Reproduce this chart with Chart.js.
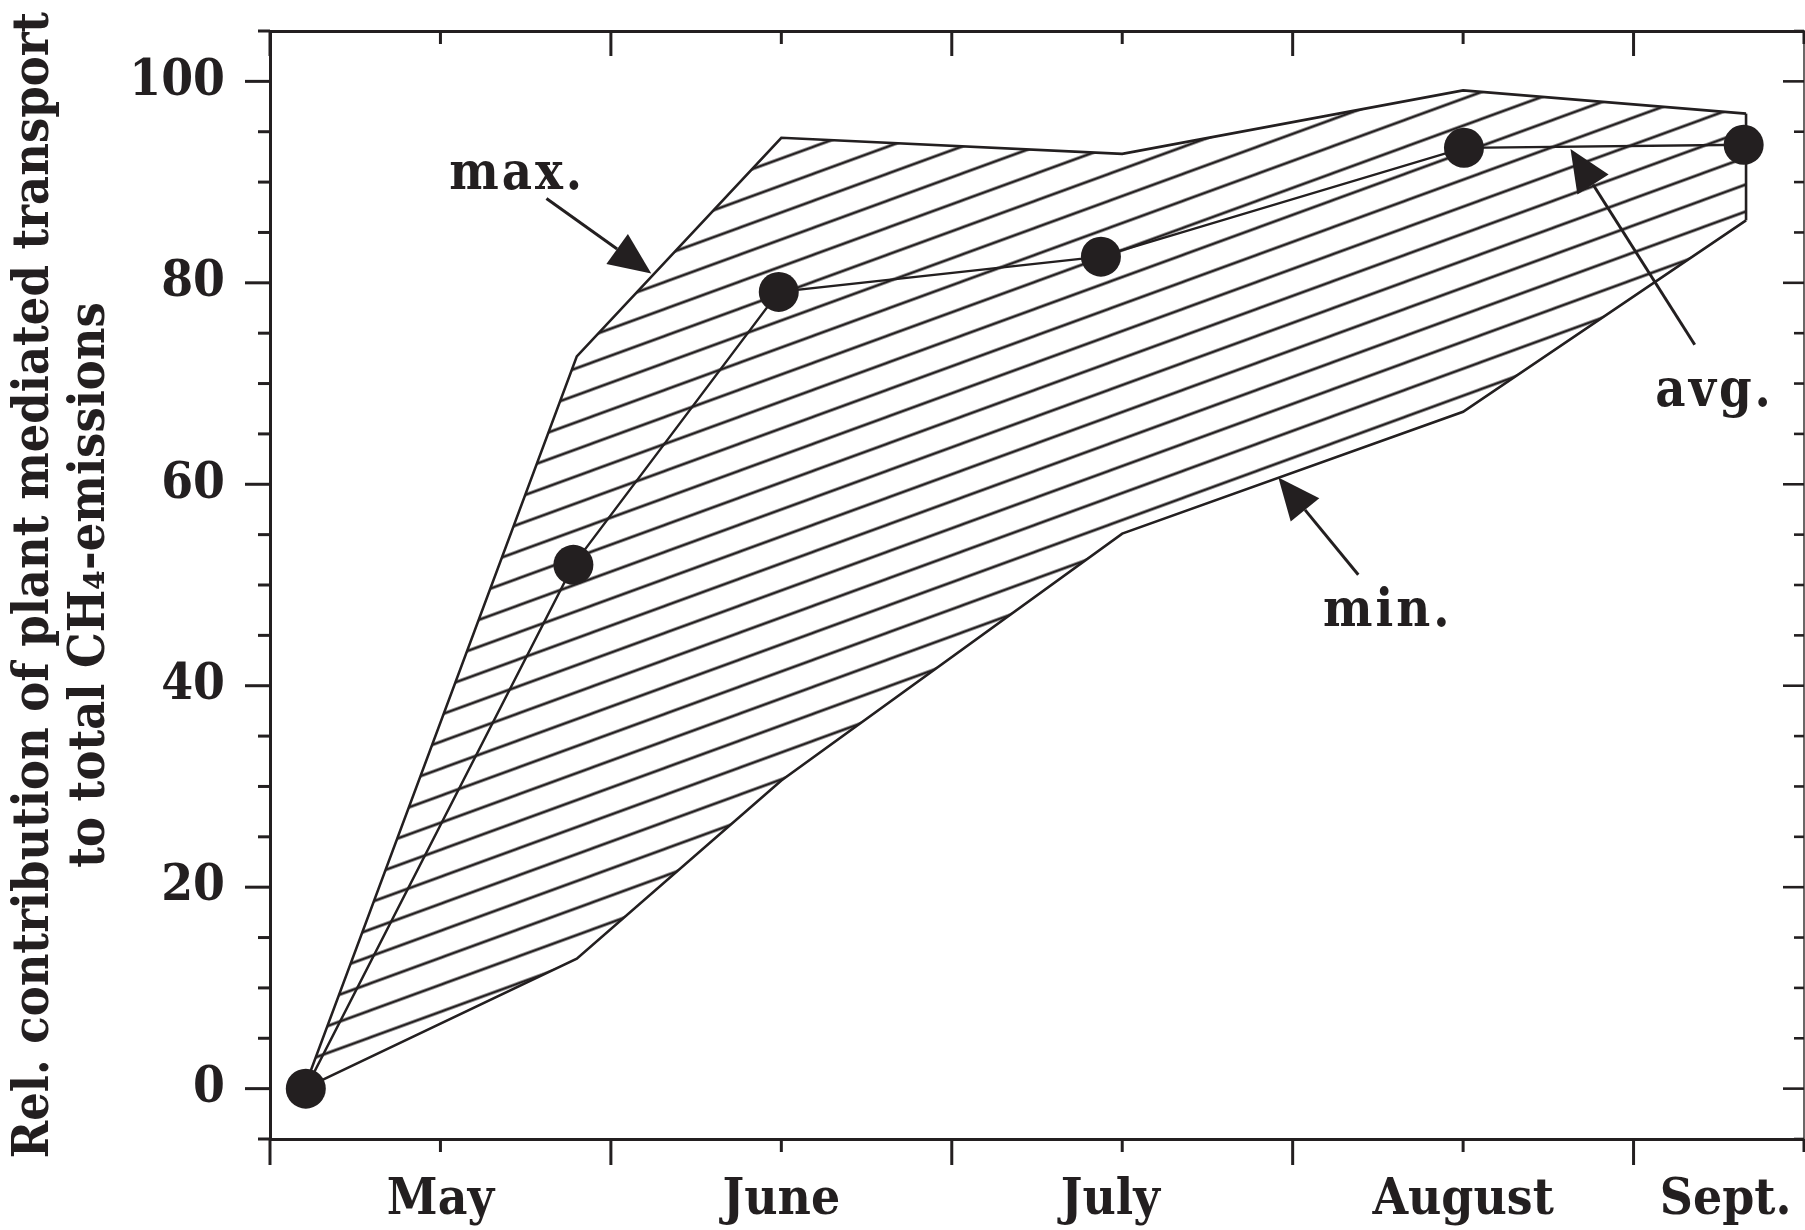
<!DOCTYPE html>
<html><head><meta charset="utf-8">
<script src="https://cdn.jsdelivr.net/npm/chart.js@4/dist/chart.umd.min.js"></script>
<style>html,body{margin:0;padding:0;background:#fff}canvas{display:block}</style>
</head><body>
<canvas id="c" width="1805" height="1230"></canvas>
<script>
// ---- data (x in half-month units: 0 = 1 May, 2 = 1 June, ...) ----
const monthLabels   = ['May', 'June', 'July', 'August', 'Sept.'];
const monthLabelPos = [1, 3, 4.93, 7, 8.54];
const sampleX   = [0.2, 1.8, 3.0, 5.0, 7.0, 8.66];
const maxValues = [0, 72.7, 94.4, 92.8, 99.1, 96.8];
const minValues = [0, 12.9, 30.6, 55.1, 67.2, 86.2];
const avgX      = [0.21, 1.78, 2.985, 4.875, 7.005, 8.646];
const avgValues = [0, 52.0, 79.1, 82.6, 93.4, 93.7];
const yTickValues = [0, 20, 40, 60, 80, 100];
const yTitle = ['Rel. contribution of plant mediated transport', 'to total CH\u2084-emissions'];

// annotation anchors (data units)
const notes = [
  {text: 'max.', at: [1.051, 89.31], from: [1.622, 88.38], to: [2.237, 80.93]},
  {text: 'min.', at: [6.178, 45.96], from: [6.385, 51.02], to: [5.916, 60.68]},
  {text: 'avg.', at: [8.128, 67.8],  from: [8.359, 73.85], to: [7.630, 93.28]}
];

const INK = '#231f20';
const SERIF_C = '"DejaVu Serif Condensed", "DejaVu Serif"';
const pts = (xs, ys) => xs.map((v, i) => ({x: v, y: ys[i]}));

const canvas = document.getElementById('c');
const mainCtx = canvas.getContext('2d');

// hatch pattern
const HW = 74, HH = 27, HS = HH / HW, HPHASE = 3.3;
const tile = document.createElement('canvas');
tile.width = HW; tile.height = HH;
const tg = tile.getContext('2d');
tg.strokeStyle = INK; tg.lineWidth = 2.7;
for (let k = -1; k <= 1; k++) {
  tg.beginPath();
  tg.moveTo(-6, HH * (1 + k) + 6 * HS);
  tg.lineTo(HW + 6, HH * (1 + k) - (HW + 6) * HS);
  tg.stroke();
}
const hatch = mainCtx.createPattern(tile, 'repeat');

const hatchPhase = {
  id: 'hatchPhase',
  beforeDatasetsDraw(chart) {
    const {x, y} = chart.scales;
    const px = x.getPixelForValue(sampleX[1]);
    const py = y.getPixelForValue(minValues[1]);
    const c0 = py + HS * px + HPHASE;
    const ty = ((c0 % HH) + HH) % HH;
    hatch.setTransform(new DOMMatrix([1, 0, 0, 1, 0, ty]));
  }
};

const frameTicks = {
  id: 'frameTicks',
  afterDraw(chart) {
    const {ctx, chartArea: a, scales: {x, y}} = chart;
    const line = (x1, y1, x2, y2) => { ctx.beginPath(); ctx.moveTo(x1, y1); ctx.lineTo(x2, y2); ctx.stroke(); };
    ctx.save();
    ctx.strokeStyle = INK;
    ctx.lineWidth = 3;
    for (let v = 0; v <= 9; v++) {
      const px = x.getPixelForValue(v);
      const major = v % 2 === 0;
      line(px, a.bottom, px, a.bottom + (major ? 26 : 13));
      line(px, a.top, px, a.top + (major ? 25 : 13));
    }
    for (let v = -5; v <= 105; v += 5) {
      const py = y.getPixelForValue(v);
      const major = v % 20 === 0;
      line(a.left - (major ? 25 : 12), py, a.left, py);
      ctx.lineWidth = 2.6;
      line(a.right - (major ? 21 : 10), py, a.right, py);
      ctx.lineWidth = 3;
    }
    ctx.restore();
  }
};

const arrowNotes = {
  id: 'arrowNotes',
  afterDatasetsDraw(chart) {
    const {ctx, scales: {x, y}} = chart;
    ctx.save();
    ctx.fillStyle = INK; ctx.strokeStyle = INK;
    ctx.font = 'bold 52px ' + SERIF_C;
    ctx.letterSpacing = '3px';
    ctx.textAlign = 'left'; ctx.textBaseline = 'alphabetic';
    notes.forEach(n => {
      ctx.fillText(n.text, x.getPixelForValue(n.at[0]), y.getPixelForValue(n.at[1]));
      const sx = x.getPixelForValue(n.from[0]), sy = y.getPixelForValue(n.from[1]);
      const tx = x.getPixelForValue(n.to[0]), ty = y.getPixelForValue(n.to[1]);
      const len = Math.hypot(tx - sx, ty - sy);
      const ux = (tx - sx) / len, uy = (ty - sy) / len;
      const L = 42, W = 37;
      const bx = tx - ux * L, by = ty - uy * L;
      ctx.lineWidth = 3;
      ctx.beginPath(); ctx.moveTo(sx, sy); ctx.lineTo(bx, by); ctx.stroke();
      ctx.beginPath();
      ctx.moveTo(tx, ty);
      ctx.lineTo(bx - uy * W / 2, by + ux * W / 2);
      ctx.lineTo(bx + uy * W / 2, by - ux * W / 2);
      ctx.closePath(); ctx.fill();
    });
    ctx.restore();
  }
};

const noPadX = s => { s.paddingLeft = 0; s.paddingRight = 0; };
const noPadY = s => { s.paddingTop = 0; s.paddingBottom = 0; };

function build() {
  const last = sampleX.length - 1;
  new Chart(canvas, {
    type: 'line',
    data: {
      datasets: [
        {
          label: 'avg.',
          data: pts(avgX, avgValues),
          borderColor: INK, borderWidth: 2.4,
          pointRadius: 20, pointHoverRadius: 20,
          pointBackgroundColor: INK, pointBorderWidth: 0,
          fill: false, tension: 0
        },
        {
          label: 'max.',
          data: pts(sampleX, maxValues),
          borderColor: INK, borderWidth: 2.6,
          pointRadius: 0, fill: '+1', backgroundColor: hatch, tension: 0
        },
        {
          label: 'min.',
          data: pts(sampleX, minValues),
          borderColor: INK, borderWidth: 2.6,
          pointRadius: 0, fill: false, tension: 0
        },
        {
          label: 'edge',
          data: [{x: sampleX[last], y: minValues[last]}, {x: sampleX[last], y: maxValues[last]}],
          borderColor: INK, borderWidth: 2.6,
          pointRadius: 0, fill: false, tension: 0
        }
      ]
    },
    options: {
      responsive: false,
      animation: false,
      devicePixelRatio: 1,
      layout: {autoPadding: false, padding: {left: 0, top: 31, right: 1, bottom: 0}},
      plugins: {legend: {display: false}, tooltip: {enabled: false}},
      events: [],
      scales: {
        x: {
          type: 'linear', position: 'bottom', min: 0, max: 9,
          afterBuildTicks: s => { s.ticks = monthLabelPos.map(v => ({value: v})); },
          afterFit: s => { s.height = 91; noPadX(s); },
          ticks: {
            autoSkip: false, maxRotation: 0, padding: 31, color: INK,
            font: {family: SERIF_C, size: 51, weight: 'bold'},
            callback: (v, i) => monthLabels[i]
          },
          grid: {display: false, drawTicks: false},
          border: {display: true, color: INK, width: 3}
        },
        xTop: {
          type: 'linear', position: 'top', min: 0, max: 9,
          afterFit: s => { s.height = 0; noPadX(s); },
          ticks: {display: false},
          grid: {display: false, drawTicks: false},
          border: {display: true, color: INK, width: 3}
        },
        y: {
          type: 'linear', position: 'left', min: -5, max: 105,
          afterBuildTicks: s => { s.ticks = yTickValues.map(v => ({value: v})); },
          afterFit: s => { s.width = 270; noPadY(s); },
          ticks: {
            padding: 45, color: INK,
            font: {family: SERIF_C, size: 51, weight: 'bold'}
          },
          grid: {display: false, drawTicks: false},
          border: {display: true, color: INK, width: 3},
          title: {
            display: true, text: yTitle, color: INK,
            padding: {top: 7, bottom: 0},
            font: {family: SERIF_C, size: 50, weight: 'bold', lineHeight: 1.12}
          }
        },
        yRight: {
          type: 'linear', position: 'right', min: -5, max: 105,
          afterFit: s => { s.width = 0; noPadY(s); },
          ticks: {display: false},
          grid: {display: false, drawTicks: false},
          border: {display: true, color: '#6b6767', width: 2}
        }
      }
    },
    plugins: [hatchPhase, arrowNotes, frameTicks]
  });
}

Promise.all([
  document.fonts.load('bold 48px "DejaVu Serif"'),
  document.fonts.load('bold 48px "DejaVu Serif Condensed"')
]).catch(() => {}).then(build);
</script>
</body></html>
